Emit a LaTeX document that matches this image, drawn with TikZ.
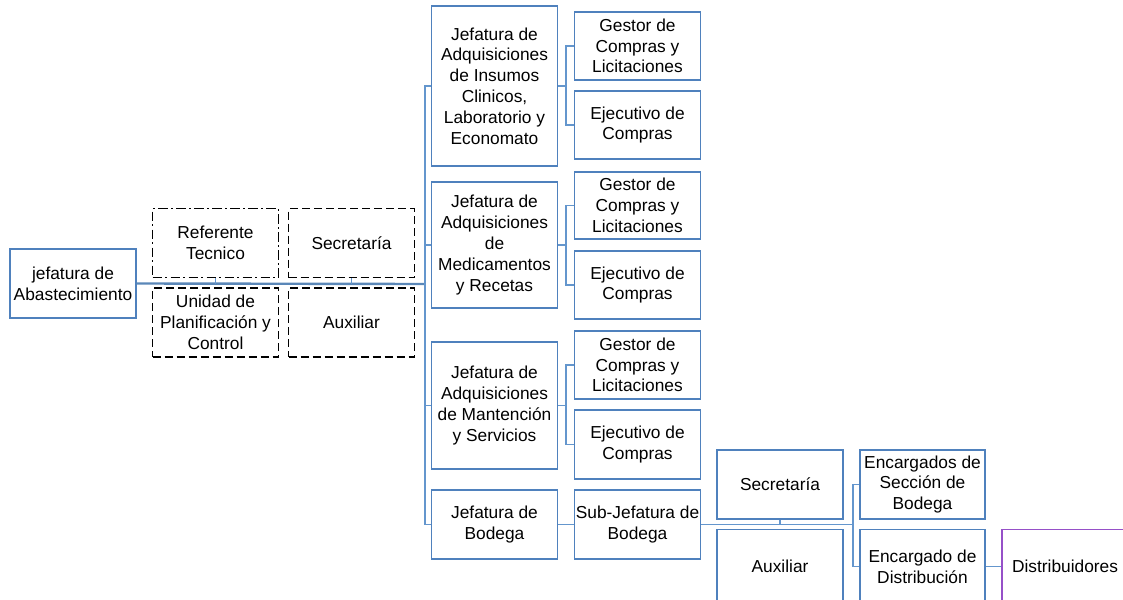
\documentclass[tikz,border=0pt]{standalone}
\usepackage{fontspec}
\setmainfont{Liberation Sans}
\usepackage{tikz}

\definecolor{boxblue}{RGB}{79,129,189}
\definecolor{lineblue}{RGB}{100,150,205}
\definecolor{distpurple}{RGB}{150,80,200}

\tikzset{
  box/.style={draw=boxblue, line width=0.9pt, fill=white, align=center, inner sep=0pt,
    minimum width=94.5pt, minimum height=51.75pt, font=\fontsize{13}{15.6}\selectfont},
  dbox/.style={box, draw=black, dash pattern=on 6pt off 3pt},
  ddbox/.style={box, draw=black, dash pattern=on 7pt off 2.5pt on 1.5pt off 2.5pt},
  cutbox/.style={box, minimum height=55pt},
  link/.style={draw=lineblue, line width=1pt},
  mainlink/.style={draw=lineblue!90!black, line width=1.8pt}
}

\begin{document}
\begin{tikzpicture}[x=0.75pt,y=-0.75pt]
\clip (0,0) rectangle (1123,599);
\useasboundingbox (0,0) rectangle (1123,599);

% left part
\node[box] (abast) at (73,283.5) {jefatura de\\Abastecimiento};
\node[ddbox] (ref) at (215.5,243) {Referente\\Tecnico};
\node[dbox] (sec1) at (351.5,243) {Secretaría};
\node[dbox] (unidad) at (215.5,322.5) {Unidad de\\Planificación y\\Control};
\node[dbox] (aux1) at (351.5,322.5) {Auxiliar};

% jefaturas
\node[box, minimum height=120pt] (ins) at (494.5,86) {Jefatura de\\Adquisiciones\\de Insumos\\Clinicos,\\Laboratorio y\\Economato};
\node[box, minimum height=94.5pt] (med) at (494.5,245) {Jefatura de\\Adquisiciones\\de\\Medicamentos\\y Recetas};
\node[box, minimum height=95.25pt] (mant) at (494.5,405.5) {Jefatura de\\Adquisiciones\\de Mantención\\y Servicios};
\node[box] (bod) at (494.5,524.5) {Jefatura de\\Bodega};

% gestores y ejecutivos
\node[box, minimum height=51pt] (gest1) at (637.5,46) {Gestor de\\Compras y\\Licitaciones};
\node[box, minimum height=51pt] (ejec1) at (637.5,125) {Ejecutivo de\\Compras};
\node[box, minimum height=50.25pt] (gest2) at (637.5,205.5) {Gestor de\\Compras y\\Licitaciones};
\node[box, minimum height=51pt] (ejec2) at (637.5,285) {Ejecutivo de\\Compras};
\node[box, minimum height=51pt] (gest3) at (637.5,365) {Gestor de\\Compras y\\Licitaciones};
\node[box] (ejec3) at (637.5,444.5) {Ejecutivo de\\Compras};
\node[box] (subj) at (637.5,524.5) {Sub-Jefatura de\\Bodega};

% bodega
\node[box] (sec2) at (780,484.5) {Secretaría};
\node[cutbox] (aux2) at (780,566.5) {Auxiliar};
\node[box, minimum width=93.75pt] (encs) at (922.5,484.5) {Encargados de\\Sección de\\Bodega};
\node[cutbox, minimum width=93.75pt] (encd) at (922.5,566.5) {Encargado de\\Distribución};
\node[cutbox, draw=distpurple] (dist) at (1065,566.5) {Distribuidores};

% connectors
\coordinate (trunk) at (425,284);
\draw[mainlink] (abast.east) -- (trunk);
\draw[link] (ref.south) -- (ref.south |- trunk);
\draw[link] (sec1.south) -- (sec1.south |- trunk);
\draw[link] (ins.west) -| (trunk) |- (bod.west);
\draw[link] (med.west) -- (med.west -| trunk);
\draw[link] (mant.west) -- (mant.west -| trunk);

\coordinate (b1) at (566,86);
\draw[link] (ins.east) -- (b1);
\draw[link] (gest1.west) -| (b1) |- (ejec1.west);
\coordinate (b2) at (566,245);
\draw[link] (med.east) -- (b2);
\draw[link] (gest2.west) -| (b2) |- (ejec2.west);
\coordinate (b3) at (566,405.5);
\draw[link] (mant.east) -- (b3);
\draw[link] (gest3.west) -| (b3) |- (ejec3.west);

\draw[link] (bod.east) -- (subj.west);
\coordinate (b5) at (853,524.5);
\draw[link] (subj.east) -- (b5);
\draw[link] (sec2.south) -- (sec2.south |- b5);
\draw[link] (encs.west) -| (b5) |- (encd.west);
\draw[link] (encd.east) -- (dist.west);

\end{tikzpicture}
\end{document}
